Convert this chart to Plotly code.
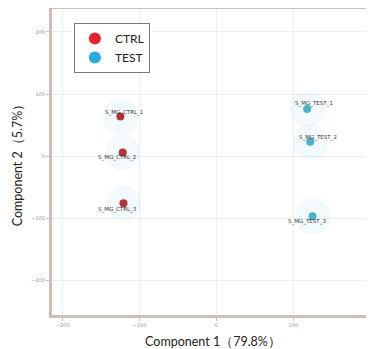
import plotly.graph_objects as go

groups = ["CTRL", "TEST"]
ctrl_x = [-125, -122, -121]
ctrl_y = [64, 6, -76]
ctrl_labels = ["S_MG_CTRL_1", "S_MG_CTRL_2", "S_MG_CTRL_3"]
test_x = [118, 122, 125]
test_y = [76, 23, -97]
test_labels = ["S_MG_TEST_1", "S_MG_TEST_2", "S_MG_TEST_3"]
x_ticks = [-200, -100, 0, 100, 200]
y_ticks = [-200, -100, 0, 100, 200]

legend_colors = {"CTRL": "#e8202a", "TEST": "#29abe2"}
point_colors = {"CTRL": "#b5333b", "TEST": "#4ab3c8"}
halo_color = "rgba(120,200,235,0.09)"

data = {"CTRL": (ctrl_x, ctrl_y, ctrl_labels), "TEST": (test_x, test_y, test_labels)}
# label offsets in pixels (style only)
label_shift = {"CTRL": [(4, 4), (-6, -5), (-6, -6)],
               "TEST": [(7, 5), (8, 4), (-6, -5)]}

fig = go.Figure()
for g in groups:
    xs, ys, labs = data[g]
    fig.add_trace(go.Scatter(x=xs, y=ys, mode="markers", showlegend=False, hoverinfo="skip",
                             marker=dict(size=36, color=halo_color)))
    fig.add_trace(go.Scatter(x=xs, y=ys, mode="markers", showlegend=False,
                             marker=dict(size=8, color=point_colors[g])))
    for xv, yv, lab, (dx, dy) in zip(xs, ys, labs, label_shift[g]):
        fig.add_annotation(x=xv, y=yv, text=lab, showarrow=False, xshift=dx, yshift=dy,
                           font=dict(size=5.5, color="#333333", family="DejaVu Sans"))
for g in groups:
    fig.add_trace(go.Scatter(x=[None], y=[None], mode="markers", name=g,
                             marker=dict(size=11, color=legend_colors[g])))

axis_common = dict(showline=True, mirror=True, linecolor="#cdbfb8", linewidth=3,
                   showgrid=True, gridcolor="#eeeeee", gridwidth=1, zeroline=False,
                   ticks="outside", ticklen=3, tickcolor="#cdbfb8", automargin=False,
                   tickfont=dict(size=5, color="#9a8f8a", family="DejaVu Sans"))

# page has an 8px body margin, so the figure is 366x341 to fill the 374x349 window
fig.update_layout(
    width=366, height=341,
    margin=dict(l=44, r=0, t=1, b=34),
    paper_bgcolor="white", plot_bgcolor="white",
    font=dict(family="Lato", color="#222222"),
    xaxis=dict(range=[-214, 205], tickvals=x_ticks, **axis_common,
               title=dict(text="Component 1（79.8%）", font=dict(size=12.5), standoff=11)),
    yaxis=dict(range=[-256, 237], tickvals=y_ticks, **axis_common,
               title=dict(text="Component 2（5.7%）", font=dict(size=12.5), standoff=6)),
    legend=dict(x=0.068, y=0.954, xanchor="left", yanchor="top",
                bgcolor="white", bordercolor="#777777", borderwidth=1,
                font=dict(size=12, family="Lato", color="#222222"),
                itemsizing="constant", tracegroupgap=0, itemwidth=30),
)

fig.write_html("out.html")
